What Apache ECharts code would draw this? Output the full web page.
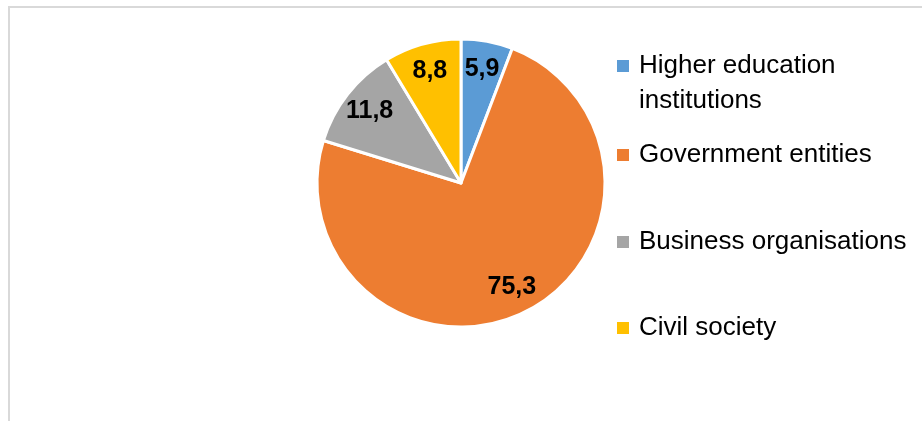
<!DOCTYPE html>
<html>
<head>
<meta charset="utf-8">
<script src="https://cdn.jsdelivr.net/npm/echarts@6/dist/echarts.min.js"></script>
<style>
  html, body { margin: 0; padding: 0; background: #fff; }
  #frame { position: absolute; left: 8px; top: 6px; width: 940px; height: 440px;
           border-left: 2px solid #d9d9d9; border-top: 2px solid #d9d9d9; box-sizing: border-box; }
  #chart { position: absolute; left: 0; top: 0; width: 922px; height: 421px; }
</style>
</head>
<body>
<div id="frame"></div>
<div id="chart"></div>
<script>
const categories = ['Higher education institutions', 'Government entities', 'Business organisations', 'Civil society'];
const values = [5.9, 75.3, 11.8, 8.8];
const colors = ['#5B9BD5', '#ED7D31', '#A5A5A5', '#FFC000'];

const chart = echarts.init(document.getElementById('chart'), null, { renderer: 'canvas' });

const data = categories.map((c, i) => ({ name: c, value: values[i], itemStyle: { color: colors[i] } }));
const labelData = categories.map((c, i) => ({ name: c, value: values[i] }));

const legendText = { fontFamily: 'Liberation Sans, Arial, sans-serif', fontSize: 26, color: '#000', lineHeight: 35, padding: [0, 0, 0, 5] };
function mkLegend(name, top, extra) {
  return Object.assign({
    data: [{ name: name, icon: 'rect' }],
    orient: 'vertical', left: 617, top: top, padding: 0,
    itemWidth: 12, itemHeight: 12, selectedMode: false,
    itemStyle: { borderWidth: 0 },
    textStyle: legendText
  }, extra || {});
}

chart.setOption({
  animation: false,
  backgroundColor: 'transparent',
  legend: [
    mkLegend(categories[0], 13.5, {
      formatter: () => ' \nHigher education\ninstitutions'
    }),
    mkLegend(categories[1], 137.5),
    mkLegend(categories[2], 224.5),
    mkLegend(categories[3], 310.5)
  ],
  series: [
    {
      type: 'pie',
      center: [461, 183],
      radius: [0, 144],
      startAngle: 90,
      clockwise: true,
      silent: true,
      label: { show: false },
      labelLine: { show: false },
      itemStyle: { borderColor: '#fff', borderWidth: 3 },
      data: data
    },
    {
      type: 'pie',
      center: [461, 183],
      radius: [82, 144],
      startAngle: 90,
      clockwise: true,
      silent: true,
      itemStyle: { color: 'rgba(0,0,0,0)', borderWidth: 0 },
      labelLine: { show: false },
      label: {
        show: true, position: 'inside',
        formatter: p => String(p.value).replace('.', ','),
        fontFamily: 'Liberation Sans, Arial, sans-serif',
        fontWeight: 'bold', fontSize: 25, color: '#000'
      },
      data: labelData
    }
  ]
});
</script>
</body>
</html>
